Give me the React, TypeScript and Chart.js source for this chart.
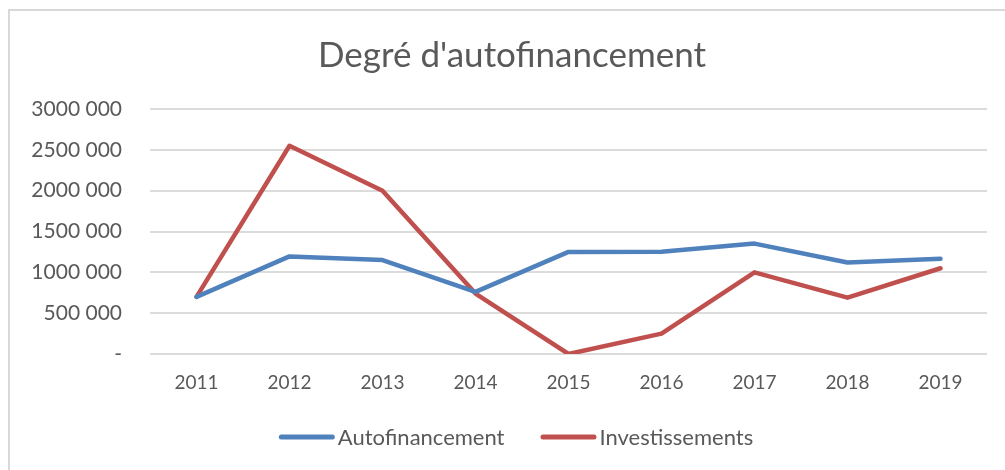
import React, { useEffect, useRef } from "react";
import { Chart, registerables } from "chart.js";

Chart.register(...registerables);

const chartTitle = "Degré d'autofinancement";
const years = ["2011", "2012", "2013", "2014", "2015", "2016", "2017", "2018", "2019"];
const autofinancement = [700000, 1195000, 1150000, 760000, 1250000, 1252000, 1352000, 1120000, 1165000];
const investissements = [700000, 2550000, 2000000, 740000, 0, 250000, 1000000, 690000, 1050000];
const yTickLabels = ["-", "500 000", "1000 000", "1500 000", "2000 000", "2500 000", "3000 000"];

const FONT = "Lato, 'Open Sans', sans-serif";
const TEXT = "#595959";

const chartTitlePlugin = {
  id: "chartTitlePlugin",
  afterDraw(chart: any) {
    const ctx = chart.ctx as CanvasRenderingContext2D;
    ctx.save();
    ctx.font = `35px ${FONT}`;
    ctx.fillStyle = TEXT;
    ctx.textAlign = "center";
    ctx.textBaseline = "middle";
    ctx.fillText(chartTitle, 512, 56);
    ctx.restore();
  },
};

const bottomLegend = {
  id: "bottomLegend",
  afterDraw(chart: any) {
    const ctx = chart.ctx as CanvasRenderingContext2D;
    const lineW = 56;
    const gap = 3;
    const itemGap = 36;
    const centerX = 516;
    const y = 437;
    ctx.save();
    ctx.font = `22px ${FONT}`;
    ctx.textBaseline = "middle";
    ctx.textAlign = "left";
    const items = chart.data.datasets.map((d: any) => ({
      label: d.label as string,
      color: d.borderColor as string,
      w: ctx.measureText(d.label).width,
    }));
    let total = 0;
    items.forEach((it: any, i: number) => {
      total += lineW + gap + it.w + (i < items.length - 1 ? itemGap : 0);
    });
    let x = centerX - total / 2;
    items.forEach((it: any) => {
      ctx.strokeStyle = it.color;
      ctx.lineWidth = 5;
      ctx.lineCap = "round";
      ctx.beginPath();
      ctx.moveTo(x + 2.5, y);
      ctx.lineTo(x + lineW - 2.5, y);
      ctx.stroke();
      ctx.fillStyle = TEXT;
      ctx.fillText(it.label, x + lineW + gap, y + 1);
      x += lineW + gap + it.w + itemGap;
    });
    ctx.restore();
  },
};

export default function App() {
  const ref = useRef<HTMLCanvasElement | null>(null);

  useEffect(() => {
    if (!ref.current) return;
    const chart = new Chart(ref.current, {
      type: "line",
      data: {
        labels: years,
        datasets: [
          {
            label: "Autofinancement",
            data: autofinancement,
            borderColor: "#4F81BD",
            backgroundColor: "#4F81BD",
            borderWidth: 4.5,
            pointRadius: 0,
            tension: 0,
            borderCapStyle: "round",
            borderJoinStyle: "round",
          },
          {
            label: "Investissements",
            data: investissements,
            borderColor: "#C0504D",
            backgroundColor: "#C0504D",
            borderWidth: 4.5,
            pointRadius: 0,
            tension: 0,
            borderCapStyle: "round",
            borderJoinStyle: "round",
          },
        ],
      },
      options: {
        animation: false,
        responsive: false,
        maintainAspectRatio: false,
        layout: { padding: { left: 0, right: 18, top: 109, bottom: 55 } },
        plugins: {
          title: { display: false },
          legend: { display: false },
          tooltip: { enabled: false },
        },
        scales: {
          x: {
            offset: true,
            grid: { display: false, drawTicks: false, offset: true },
            border: { display: false },
            ticks: { color: TEXT, font: { family: FONT, size: 19 }, padding: 17 },
            afterFit: (scale: any) => {
              scale.height = 61;
            },
          },
          y: {
            min: 0,
            max: 3000000,
            grid: { color: "#dcdcdc", lineWidth: 2, drawTicks: false },
            border: { display: false },
            ticks: {
              stepSize: 500000,
              color: TEXT,
              font: { family: FONT, size: 21 },
              padding: 28,
              callback: (_v: any, i: number) => yTickLabels[i],
            },
            afterFit: (scale: any) => {
              scale.width = 150;
            },
          },
        },
      },
      plugins: [chartTitlePlugin, bottomLegend],
    });
    return () => chart.destroy();
  }, []);

  return (
    <div
      style={{
        position: "fixed",
        left: 0,
        top: 0,
        width: 1005,
        height: 470,
        overflow: "hidden",
        background: "#fff",
      }}
    >
      <div
        style={{
          position: "absolute",
          left: 8,
          top: 9,
          width: 1100,
          height: 600,
          borderTop: "2px solid #d9d9d9",
          borderLeft: "2px solid #d9d9d9",
        }}
      />
      <canvas ref={ref} width={1005} height={470} style={{ position: "absolute", left: 0, top: 0 }} />
    </div>
  );
}
